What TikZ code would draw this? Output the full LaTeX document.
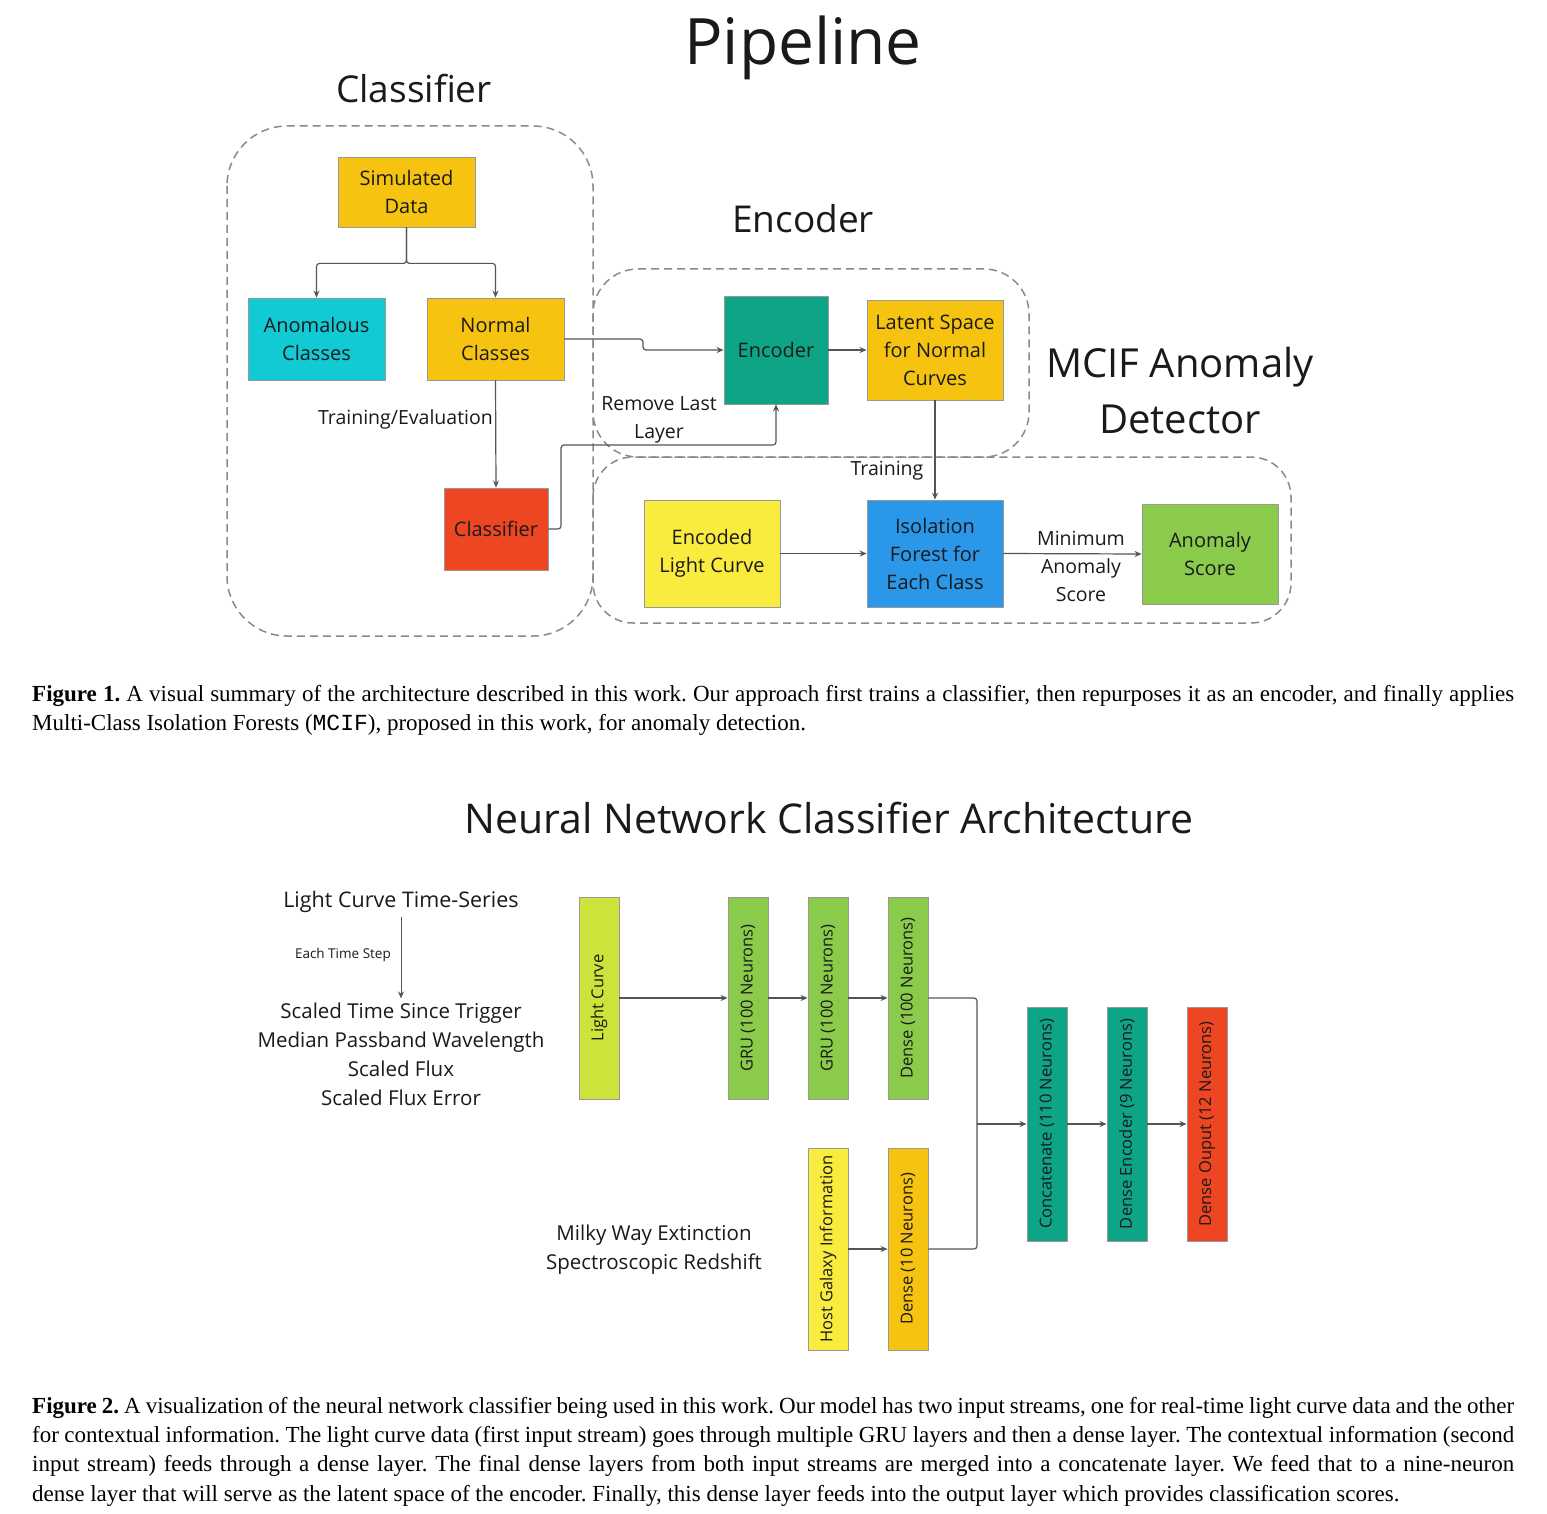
\documentclass[tikz,border=0pt]{standalone}
\usepackage{fontspec}
\setmainfont{Liberation Serif}
\setmonofont{Liberation Mono}
\newfontfamily\osans{Open Sans}
\usetikzlibrary{arrows.meta}

\definecolor{cgold}{HTML}{F5C310}
\definecolor{ccyan}{HTML}{12CAD3}
\definecolor{cred}{HTML}{EE4623}
\definecolor{cteal}{HTML}{0EA586}
\definecolor{cyellow}{HTML}{F9EC3F}
\definecolor{cblue}{HTML}{2A97E8}
\definecolor{cgreen}{HTML}{8BCB4B}
\definecolor{clime}{HTML}{CDE33B}
\definecolor{cline}{HTML}{555555}
\definecolor{cdash}{HTML}{8A8A8A}
\definecolor{ctext}{HTML}{1A1A1A}

\tikzset{
  block/.style={draw=black!40, line width=0.8pt, inner sep=0pt, align=center,
    text=ctext, font=\osans\fontsize{20}{28}\selectfont},
  layer/.style={block, minimum width=40pt, minimum height=202pt,
    font=\osans\fontsize{16.5}{18}\selectfont},
  tag/.style={text=ctext, align=center, inner sep=4pt,
    font=\osans\fontsize{19.5}{28}\selectfont},
  heading/.style={text=ctext, align=center, inner sep=0pt},
  link/.style={draw=cline, line width=1.2pt, rounded corners=3pt},
  arr/.style={link, -{Stealth[length=7pt,width=6pt]}},
  region/.style={draw=cdash, line width=1.5pt, dash pattern=on 8pt off 5pt},
  caption/.style={anchor=base west, inner sep=0pt, text=black,
    font=\fontsize{23}{29.4}\selectfont\frenchspacing}
}

\begin{document}
\begin{tikzpicture}[x=1pt, y=-1pt]
  \useasboundingbox[fill=white] (0,0) rectangle (1547,1514);

  % titles
  \node[heading, anchor=base, font=\osans\fontsize{64}{70}\selectfont] (pipe) at (803,65) {Pipeline};
  \node[heading, anchor=base, font=\osans\fontsize{37}{44}\selectfont] (tclf) at (414,103) {Classifier};
  \node[heading, anchor=base, font=\osans\fontsize{37}{44}\selectfont] (tenc) at (803,233) {Encoder};
  \node[heading, anchor=base, font=\osans\fontsize{40}{56}\selectfont] (tmcif) at (1180,377) {MCIF Anomaly};
  \node[heading, anchor=base, font=\osans\fontsize{40}{56}\selectfont] (tdet) at (1180,433) {Detector};

  % dashed groups
  \draw[region, rounded corners=60pt] (227,126) rectangle (593,636);
  \draw[region, rounded corners=45pt] (593,269) rectangle (1029,457);
  \draw[region, rounded corners=40pt] (593,457) rectangle (1291,623);

  % pipeline blocks
  \node[block, fill=cgold, minimum width=137pt, minimum height=70pt] (sim) at (406.5,192) {Simulated\\Data};
  \node[block, fill=ccyan, minimum width=137pt, minimum height=82pt] (anom) at (316.5,339) {Anomalous\\Classes};
  \node[block, fill=cgold, minimum width=137pt, minimum height=82pt] (norm) at (495.5,339) {Normal\\Classes};
  \node[block, fill=cred, minimum width=104pt, minimum height=82pt] (clf) at (496,529) {Classifier};
  \node[block, fill=cteal, minimum width=104pt, minimum height=108pt] (enc) at (776,350) {Encoder};
  \node[block, fill=cgold, minimum width=136pt, minimum height=100pt] (lat) at (935,350) {Latent Space\\for Normal\\Curves};
  \node[block, fill=cyellow, minimum width=136pt, minimum height=107pt] (elc) at (712,553.5) {Encoded\\Light Curve};
  \node[block, fill=cblue, minimum width=136pt, minimum height=107pt] (iso) at (935,553.5) {Isolation\\Forest for\\Each Class};
  \node[block, fill=cgreen, minimum width=136pt, minimum height=100pt] (asc) at (1210,554) {Anomaly\\Score};

  % pipeline links
  \draw[arr] (sim.south) -- ++(0,36) -| (anom.north);
  \draw[arr] (sim.south) -- ++(0,36) -| (norm.north);
  \draw[arr] (norm.east) -- (643,339) -- (643,350) -- (enc.west);
  \draw[arr] (norm.south) -- (clf.north);
  \draw[arr] (clf.east) -| (561,445) -| (enc.south);
  \draw[arr] (enc.east) -- (lat.west);
  \draw[arr] (lat.south) -- (iso.north);
  \draw[arr] (elc.east) -- (iso.west);
  \draw[arr] (iso.east) -- (asc.west);

  \node[tag, anchor=east] (ltrev) at (497,419) {Training/Evaluation};
  \node[tag] (lrem) at (659,420) {Remove Last\\Layer};
  \node[tag] (ltrain) at (887,471) {Training};
  \node[tag] (lmin) at (1081,566) {Minimum\\Anomaly\\Score};

  \node[caption] (cap1) at (32,701) {\parbox[t]{1482pt}{\textbf{Figure 1.} A visual summary of the architecture described in this work. Our approach first trains a classifier, then repurposes it as an encoder, and finally applies\linebreak Multi-Class Isolation Forests (\texttt{MCIF}), proposed in this work, for anomaly detection.}};

  % network
  \node[heading, anchor=base, font=\osans\fontsize{41}{48}\selectfont] (tnet) at (829,833) {Neural Network Classifier Architecture};

  \node[tag, font=\osans\fontsize{21.5}{29}\selectfont] (lcts) at (401,902) {Light Curve Time-Series};
  \node[tag, font=\osans\fontsize{20.5}{29}\selectfont] (feat) at (401,1054) {Scaled Time Since Trigger\\Median Passband Wavelength\\Scaled Flux\\Scaled Flux Error};
  \draw[arr, line width=1pt] (lcts.south) -- (feat.north);
  \node[tag, anchor=east, font=\osans\fontsize{13.5}{16}\selectfont] (lstep) at (395,955) {Each Time Step};
  \node[tag, font=\osans\fontsize{20.5}{29}\selectfont] (ctx) at (654,1250) {Milky Way Extinction\\Spectroscopic Redshift};

  \node[layer, fill=clime] (lc) at (599,998) {\rotatebox{90}{Light Curve}};
  \node[layer, fill=cgreen] (gru1) at (748,998) {\rotatebox{90}{GRU (100 Neurons)}};
  \node[layer, fill=cgreen] (gru2) at (828,998) {\rotatebox{90}{GRU (100 Neurons)}};
  \node[layer, fill=cgreen] (d100) at (908,998) {\rotatebox{90}{Dense (100 Neurons)}};
  \node[layer, fill=cyellow] (host) at (828,1249) {\rotatebox{90}{Host Galaxy Information}};
  \node[layer, fill=cgold] (d10) at (908,1249) {\rotatebox{90}{Dense (10 Neurons)}};
  \node[layer, fill=cteal, minimum height=234pt] (cat) at (1047,1124) {\rotatebox{90}{Concatenate (110 Neurons)}};
  \node[layer, fill=cteal, minimum height=234pt] (denc) at (1127,1124) {\rotatebox{90}{Dense Encoder (9 Neurons)}};
  \node[layer, fill=cred, minimum height=234pt] (dout) at (1207,1124) {\rotatebox{90}{Dense Ouput (12 Neurons)}};
  \coordinate (merge) at (977,1124);

  \draw[arr] (lc.east) -- (gru1.west);
  \draw[arr] (gru1.east) -- (gru2.west);
  \draw[arr] (gru2.east) -- (d100.west);
  \draw[arr] (host.east) -- (d10.west);
  \draw[link] (d100.east) -| (merge);
  \draw[link] (d10.east) -| (merge);
  \draw[arr] (merge) -- (cat.west);
  \draw[arr] (cat.east) -- (denc.west);
  \draw[arr] (denc.east) -- (dout.west);

  \node[caption] (cap2) at (32,1413) {\parbox[t]{1482pt}{\textbf{Figure 2.} A visualization of the neural network classifier being used in this work. Our model has two input streams, one for real-time light curve data and the other\linebreak for contextual information. The light curve data (first input stream) goes through multiple GRU layers and then a dense layer. The contextual information (second\linebreak input stream) feeds through a dense layer. The final dense layers from both input streams are merged into a concatenate layer. We feed that to a nine-neuron\linebreak dense layer that will serve as the latent space of the encoder. Finally, this dense layer feeds into the output layer which provides classification scores.}};
\end{tikzpicture}
\end{document}
